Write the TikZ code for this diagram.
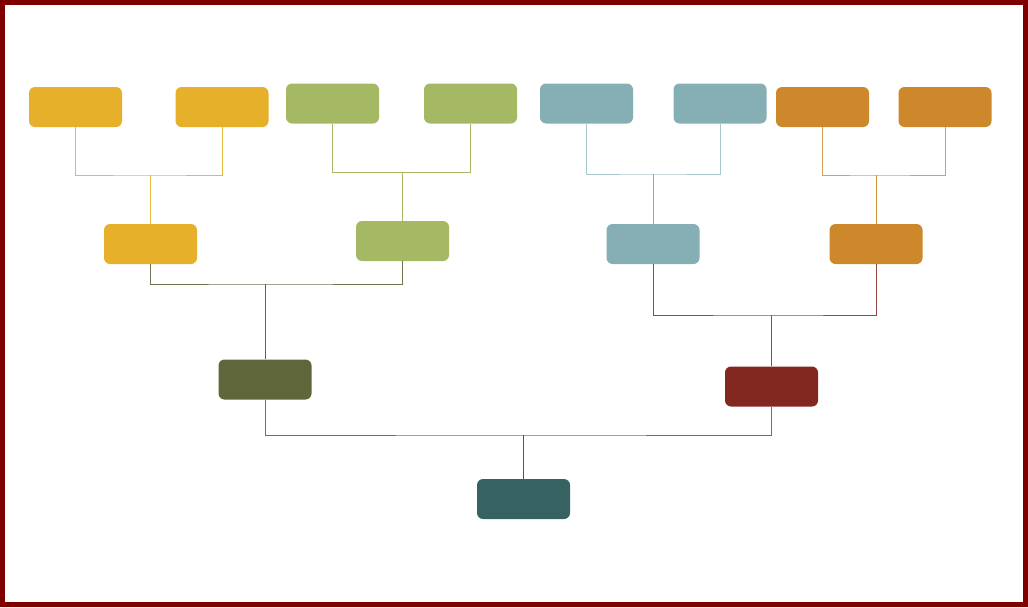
\documentclass[tikz,border=0pt]{standalone}
\usepackage{tikz}
\usetikzlibrary{positioning}

\definecolor{famyellow}{RGB}{230,176,42}
\definecolor{famgreen}{RGB}{165,184,100}
\definecolor{famblue}{RGB}{133,175,181}
\definecolor{famorange}{RGB}{204,136,43}
\definecolor{famolive}{RGB}{95,102,58}
\definecolor{famred}{RGB}{130,40,33}
\definecolor{famteal}{RGB}{54,99,98}
\definecolor{framered}{RGB}{128,0,0}

\begin{document}
\begin{tikzpicture}[x=0.75pt,y=-0.75pt,
                person/.style={rounded corners=4.5pt, minimum width=69.75pt, minimum height=30pt, inner sep=0pt},
                link/.style={line width=0.75pt}]
                \useasboundingbox (0,0) rectangle (1028,607);
                \draw[framered, line width=3.75pt] (2.5,2.5) rectangle (1025.5,604.5);
                % grandparents
                \node[person, fill=famyellow] (yA) at (75.5,107) {};
                \node[person, fill=famyellow] (yB) at (222,107) {};
                \node[person, fill=famgreen] (gA) at (332.5,103.5) {};
                \node[person, fill=famgreen] (gB) at (470.5,103.5) {};
                \node[person, fill=famblue] (bA) at (586.5,103.5) {};
                \node[person, fill=famblue] (bB) at (720,103.5) {};
                \node[person, fill=famorange] (oA) at (822.5,107) {};
                \node[person, fill=famorange] (oB) at (945,107) {};
                % parents
                \node[person, fill=famyellow] (ym) at (150.5,244) {};
                \node[person, fill=famgreen] (gm) at (402.5,241) {};
                \node[person, fill=famblue] (bm) at (653,244) {};
                \node[person, fill=famorange] (om) at (876,244) {};
                \node[person, fill=famolive] (fl) at (265,379.5) {};
                \node[person, fill=famred] (fr) at (771.5,386.5) {};
                \node[person, fill=famteal] (root) at (523.5,499) {};
                % junctions
                \coordinate (yj) at (150.5,175);
                \coordinate (gj) at (402.5,172.5);
                \coordinate (bj) at (653,174);
                \coordinate (oj) at (876,175);
                \coordinate (lj) at (265,284);
                \coordinate (rj) at (771.5,315);
                \coordinate (cj) at (523.5,435);
                \draw[link, famyellow!90] (yA.south) |- (yj) -| (yB.south);
                \draw[link, famyellow!90] (yj) -- (ym.north);
                \draw[link, famgreen] (gA.south) |- (gj) -| (gB.south);
                \draw[link, famgreen] (gj) -- (gm.north);
                \draw[link, famblue!70] (bA.south) |- (bj) -| (bB.south);
                \draw[link, famblue] (bj) -- (bm.north);
                \draw[link, famorange!80] (oA.south) |- (oj) -| (oB.south);
                \draw[link, famorange!90] (oj) -- (om.north);
                \draw[link, famolive!90] (ym.south) |- (lj) -| (gm.south);
                \draw[link, famolive] (lj) -- (fl.north);
                \draw[link, famred!85] (bm.south) |- (rj) -| (om.south);
                \draw[link, famred!85] (rj) -- (fr.north);
                \draw[link, famteal!85] (fl.south) |- (cj) -| (fr.south);
                \draw[link, famteal] (cj) -- (root.north);
            \end{tikzpicture}
\end{document}
